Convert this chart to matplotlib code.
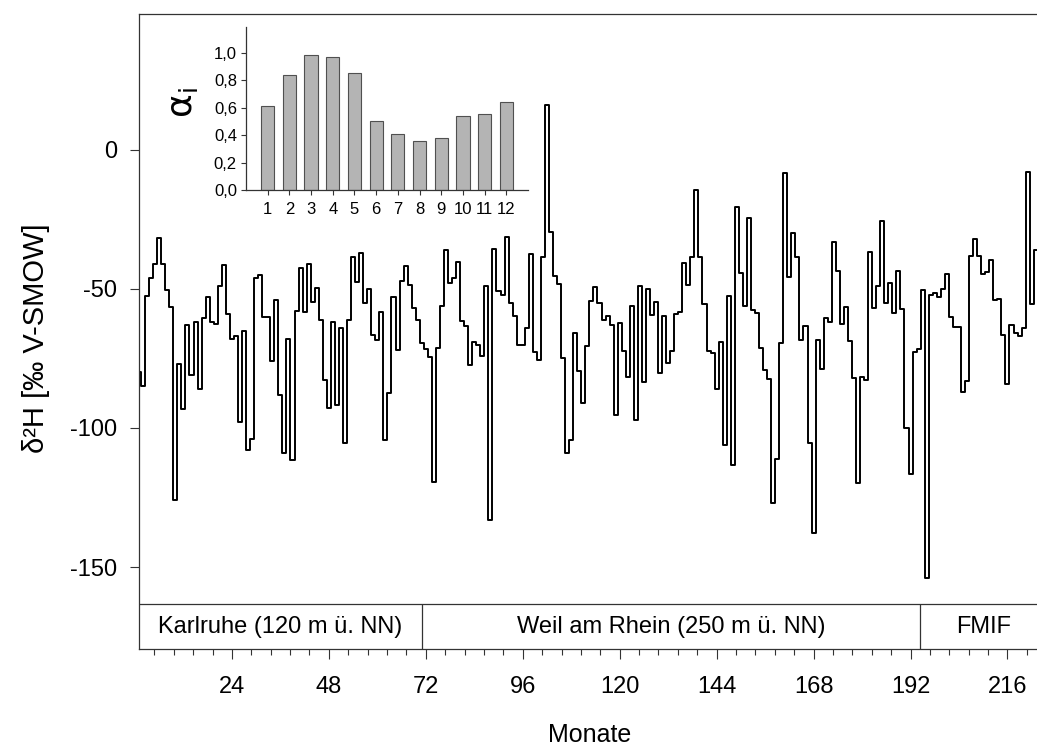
import numpy as np
import matplotlib.pyplot as plt
from matplotlib.ticker import AutoMinorLocator, FuncFormatter

plt.rcParams['font.family'] = ['Liberation Sans', 'DejaVu Sans']
plt.rcParams['axes.unicode_minus'] = False

# monthly d2H values [permil V-SMOW]
d2h = [
    -80,
    -85, -52.5, -46, -41, -31.5, -41, -50.5, -56.5, -126, -77,
    -93, -63, -81, -62, -86, -60.5, -53, -62, -62.5, -49,
    -41.5, -59, -68, -67, -98, -65, -108, -104, -46, -45,
    -60, -60, -76, -54, -88, -109, -68, -111.5, -58, -42.3,
    -58.2, -41.1, -54.6, -49.5, -61.2, -82.7, -92.9, -62, -91.7, -64.2,
    -105.3, -61.2, -38.4, -47.4, -37.2, -55.2, -50, -66.5, -68.3, -58.2,
    -104.3, -87.5, -52.8, -72, -47, -41.9, -48.5, -57, -61, -69.5,
    -71.5, -74.3, -119.5, -71.3, -56.1, -36, -48, -46, -40.2, -61.4,
    -63.3, -77.3, -68.9, -70.1, -74, -48.9, -133, -35.6, -50.9, -52.1,
    -31.4, -55.1, -59.6, -70.1, -70.1, -64.1, -37.5, -72.5, -75.5, -38.4,
    16.2, -29.4, -45.5, -48.3, -74.7, -109.1, -104.3, -66, -79.6, -91.1,
    -70.4, -54.2, -49.4, -55.2, -61.2, -59.7, -63, -95.3, -62.4, -72.2,
    -81.5, -56, -97.1, -48.9, -83.6, -50.1, -59.4, -54.6, -80.1, -59.7,
    -76.7, -72.2, -59, -58.2, -40.5, -48.6, -38.4, -14.4, -38.4, -55.4,
    -72.2, -73.1, -86.1, -69.2, -106.1, -52.5, -113.3, -20.4, -44.1, -56,
    -24.3, -57.6, -58.5, -71.3, -79.1, -82.5, -127.1, -111.3, -69.5, -8.4,
    -45.6, -30, -38.4, -68.3, -63.2, -105.5, -137.6, -68.3, -78.8, -60.6,
    -62, -33, -43.5, -62.6, -56.6, -68.7, -81.9, -119.7, -81.5, -82.7,
    -36.8, -56.7, -48.9, -25.4, -55.2, -47.7, -58.8, -43.4, -57.3, -99.9,
    -116.7, -72.5, -71.7, -50.4, -153.8, -52.2, -51.6, -52.8, -50.1, -44.6,
    -60.2, -63.8, -63.8, -87, -83, -38, -32, -38, -44.5, -43.8,
    -39.6, -54, -53.7, -66.6, -84, -63, -66, -67, -64, -8,
    -55.5, -36,
]
months = np.arange(1, len(d2h) + 1)

# seasonal factors (inset)
alpha_month = list(range(1, 13))
alpha_i = [0.61, 0.84, 0.98, 0.97, 0.85, 0.50, 0.41, 0.36, 0.38, 0.54, 0.55, 0.64]

# stations along the time axis
stations = ['Karlruhe (120 m ü. NN)', 'Weil am Rhein (250 m ü. NN)', 'FMIF']
station_edges = [1, 71, 194.4, 225.6]

xticks = [24, 48, 72, 96, 120, 144, 168, 192, 216]
yticks = [0, -50, -100, -150]

W, H = 1037, 748
fig = plt.figure(figsize=(W / 100, H / 100), dpi=100)

ax = fig.add_axes([139 / W, 1 - 649.3 / H, 902 / W, (649.3 - 14) / H])
ax.step(months, d2h, where='mid', color='black', lw=1.4)
ymin, ymax = -179.6, 48.9
band_top = -163.3
ax.set_xlim(1, 224.3)
ax.set_ylim(ymin, ymax)
ax.set_xticks(xticks)
ax.set_yticks(yticks)
ax.xaxis.set_minor_locator(AutoMinorLocator(5))
ax.tick_params(which='both', direction='out', width=0.8, color='#333333')
ax.tick_params(axis='x', which='major', length=7, pad=12, labelsize=17)
ax.tick_params(axis='x', which='minor', length=4.5)
ax.tick_params(axis='y', which='major', length=6.5, pad=9, labelsize=17)
ax.spines['right'].set_visible(False)
for s in ['left', 'top', 'bottom']:
    ax.spines[s].set_linewidth(0.9)
    ax.spines[s].set_color('#333333')

# station band under the series
ax.axhline(band_top, color='#333333', lw=0.9)
ax.vlines(station_edges[1:3], ymin, band_top, color='#333333', lw=0.9)
for name, a, b in zip(stations, station_edges[:-1], station_edges[1:]):
    ax.text((a + b) / 2, (ymin + band_top) / 2, name, ha='center', va='center',
            fontsize=17)

fig.text(36 / W, 1 - 338 / H, 'δ²H [‰ V-SMOW]', rotation=90, ha='center',
         va='center', fontsize=21)
fig.text(590 / W, 1 - 735 / H, 'Monate', ha='center', va='center', fontsize=18)

# inset
axin = fig.add_axes([246 / W, 1 - 190 / H, 282 / W, 163 / H])
axin.bar(alpha_month, alpha_i, width=0.61, color='#b4b4b4', edgecolor='#505050',
         lw=0.8)
axin.set_xlim(0, 13)
axin.set_ylim(0, 1.186)
axin.set_xticks(alpha_month)
axin.set_yticks([0, 0.2, 0.4, 0.6, 0.8, 1.0])
axin.yaxis.set_major_formatter(FuncFormatter(lambda v, p: f'{v:.1f}'.replace('.', ',')))
axin.tick_params(direction='out', length=3.5, width=0.8, labelsize=12, pad=3,
                 color='#333333')
axin.tick_params(axis='x', pad=5)
axin.spines['top'].set_visible(False)
axin.spines['right'].set_visible(False)
for s in ['left', 'bottom']:
    axin.spines[s].set_linewidth(0.9)
    axin.spines[s].set_color('#333333')
fig.text(182 / W, 1 - 103 / H, r'$\mathrm{\alpha}_\mathrm{i}$', rotation=90,
         ha='center', va='center', fontsize=26)

fig.savefig('out.png', dpi=100)
